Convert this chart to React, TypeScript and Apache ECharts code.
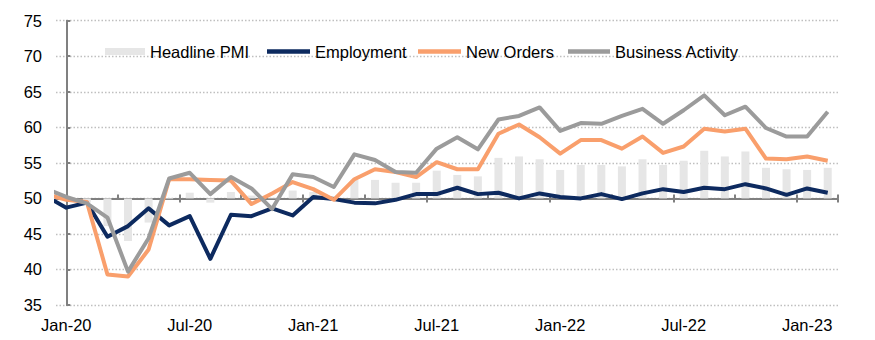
import React, { useEffect, useRef } from 'react';
import * as echarts from 'echarts';

// Categories (monthly, Jan-20 .. Feb-23)
const months = [
  'Jan-20', 'Feb-20', 'Mar-20', 'Apr-20', 'May-20', 'Jun-20', 'Jul-20', 'Aug-20', 'Sep-20', 'Oct-20', 'Nov-20', 'Dec-20',
  'Jan-21', 'Feb-21', 'Mar-21', 'Apr-21', 'May-21', 'Jun-21', 'Jul-21', 'Aug-21', 'Sep-21', 'Oct-21', 'Nov-21', 'Dec-21',
  'Jan-22', 'Feb-22', 'Mar-22', 'Apr-22', 'May-22', 'Jun-22', 'Jul-22', 'Aug-22', 'Sep-22', 'Oct-22', 'Nov-22', 'Dec-22',
  'Jan-23', 'Feb-23',
];

// Headline PMI bars, Jan-20 .. Feb-23
const headlinePMI = [
  49.8, 49.4, 46.1, 44.0, 46.6, 49.9, 50.8, 49.4, 50.9, 50.4, 50.1, 51.1,
  50.9, 50.3, 52.6, 52.6, 52.2, 52.2, 53.9, 53.3, 53.1, 55.7, 55.9, 55.5,
  54.0, 54.7, 54.7, 54.5, 55.5, 54.7, 55.3, 56.7, 55.9, 56.6, 54.3, 54.1,
  54.0, 54.3,
];

// Line series start one month earlier (Dec-19), clipped at the plot edge
const employment = [
  50.3,
  48.7, 49.4, 44.6, 46.1, 48.6, 46.2, 47.5, 41.5, 47.7, 47.5, 48.6, 47.6,
  50.2, 49.9, 49.4, 49.3, 49.8, 50.6, 50.6, 51.5, 50.6, 50.8, 50.0, 50.7,
  50.2, 50.0, 50.6, 49.9, 50.7, 51.3, 50.9, 51.5, 51.3, 52.0, 51.4, 50.5,
  51.4, 50.8,
];
const newOrders = [
  50.6,
  49.8, 49.5, 39.3, 39.0, 42.8, 52.7, 52.7, 52.6, 52.5, 49.2, 50.7, 52.3,
  51.3, 49.8, 52.7, 54.1, 53.7, 53.0, 55.1, 54.1, 54.1, 59.1, 60.4, 58.6,
  56.3, 58.2, 58.2, 57.0, 58.7, 56.4, 57.3, 59.8, 59.4, 59.8, 55.6, 55.5,
  55.9, 55.3,
];
const businessActivity = [
  51.4,
  50.2, 49.3, 47.3, 39.7, 44.4, 52.8, 53.6, 50.6, 53.0, 51.4, 48.5, 53.4,
  53.0, 51.6, 56.2, 55.4, 53.7, 53.6, 57.0, 58.6, 56.9, 61.1, 61.6, 62.8,
  59.5, 60.6, 60.5, 61.6, 62.6, 60.5, 62.4, 64.5, 61.7, 62.9, 59.9, 58.7,
  58.7, 62.2,
];

const yTicks = { min: 35, max: 75, interval: 5 };
const BASE = 50;

const FONT = '"Liberation Sans", Arial, sans-serif';
const C_NAVY = '#0d2a5f';
const C_ORANGE = '#f99f6c';
const C_GREY = '#9b9b9b';
const C_BAR = '#e6e6e6';
const C_AXIS = '#808080';

export default function App() {
  const ref = useRef<HTMLDivElement>(null);

  useEffect(() => {
    if (!ref.current) return;
    const chart = echarts.init(ref.current, null, { renderer: 'svg' });

    const gridTop = 20.7;
    const gridBottom = 35;
    const gridH = 340 - gridTop - gridBottom;
    const baseOffset = -gridH * (BASE - yTicks.min) / (yTicks.max - yTicks.min);

    const toPts = (arr: number[]) => arr.map((v, i) => [i - 1, v]);
    const textStyle = { fontFamily: FONT, fontSize: 16.5, color: '#000' };

    const lineSeries = (name: string, data: number[], color: string) => ({
      type: 'line',
      name,
      xAxisIndex: 3,
      yAxisIndex: 0,
      data: toPts(data),
      symbol: 'none',
      clip: true,
      lineStyle: { width: 4, color, join: 'round', cap: 'butt' },
      itemStyle: { color },
      z: 3,
    });

    const legendItem = (name: string, left: number, w: number, h: number) => ({
      data: [{ name, icon: 'rect' }],
      left,
      top: 43,
      itemWidth: w,
      itemHeight: h,
      textStyle,
      selectedMode: false,
      padding: 0,
    });

    const option: any = {
      animation: false,
      backgroundColor: '#ffffff',
      grid: { left: 56, right: 37, top: gridTop, bottom: gridBottom },
      legend: [
        legendItem('Headline PMI', 105, 40, 7),
        legendItem('Employment', 267, 43, 4.5),
        legendItem('New Orders', 418, 43, 4.5),
        legendItem('Business Activity', 568, 42, 4.5),
      ],
      xAxis: [
        {
          type: 'category',
          data: months,
          boundaryGap: true,
          position: 'bottom',
          axisLine: { show: false },
          axisTick: { show: false },
          splitLine: { show: false },
          axisLabel: { interval: 5, margin: 11, ...textStyle },
        },
        {
          type: 'category',
          data: months,
          boundaryGap: true,
          position: 'bottom',
          offset: baseOffset,
          axisLine: { show: true, onZero: false, lineStyle: { color: C_AXIS, width: 2 } },
          axisTick: { show: true, interval: 5, inside: false, length: 4, lineStyle: { color: C_AXIS, width: 2 } },
          axisLabel: { show: false },
          splitLine: { show: false },
        },
        {
          type: 'category',
          data: months,
          boundaryGap: true,
          position: 'bottom',
          offset: baseOffset,
          axisLine: { show: false, onZero: false },
          axisTick: { show: true, interval: 2, inside: true, length: 4, lineStyle: { color: C_AXIS, width: 2 } },
          axisLabel: { show: false },
          splitLine: { show: false },
        },
        {
          type: 'value',
          min: -0.5,
          max: months.length - 0.5,
          show: false,
        },
      ],
      yAxis: {
        type: 'value',
        min: yTicks.min,
        max: yTicks.max,
        interval: yTicks.interval,
        axisLine: { show: true, lineStyle: { color: C_AXIS, width: 2 } },
        axisTick: { show: true, inside: true, length: 4, lineStyle: { color: C_AXIS, width: 2 } },
        axisLabel: { margin: 14, ...textStyle },
        splitLine: { show: true, lineStyle: { color: '#bfbfbf', width: 1.3, type: [1.5, 2] } },
      },
      series: [
        {
          type: 'bar',
          name: '_base',
          stack: 'pmi',
          xAxisIndex: 0,
          data: headlinePMI.map((v) => Math.min(v, BASE)),
          itemStyle: { color: 'rgba(0,0,0,0)' },
          barWidth: 8,
          silent: true,
          z: 1,
        },
        {
          type: 'bar',
          name: 'Headline PMI',
          stack: 'pmi',
          xAxisIndex: 0,
          data: headlinePMI.map((v) => Math.abs(v - BASE)),
          itemStyle: { color: C_BAR },
          barWidth: 8,
          z: 1,
        },
        lineSeries('Employment', employment, C_NAVY),
        lineSeries('New Orders', newOrders, C_ORANGE),
        lineSeries('Business Activity', businessActivity, C_GREY),
      ],
    };

    chart.setOption(option);
    return () => chart.dispose();
  }, []);

  return (
    <div
      ref={ref}
      style={{ position: 'absolute', left: 0, top: 0, width: 875, height: 340, background: '#fff' }}
    />
  );
}
